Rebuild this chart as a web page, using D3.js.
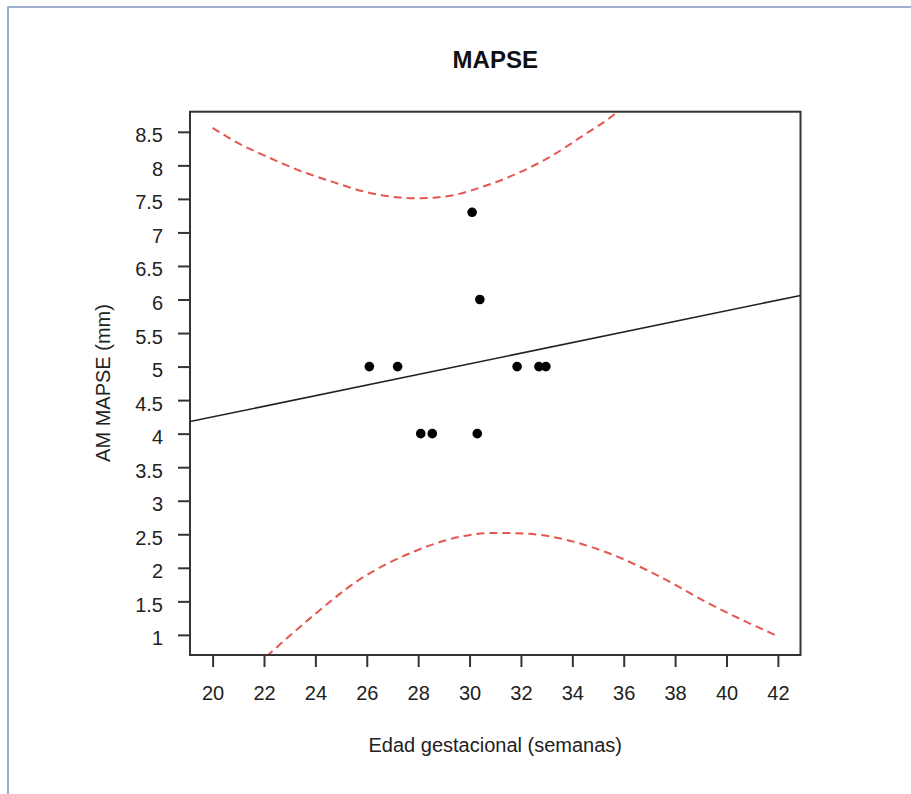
<!DOCTYPE html>
<html>
<head>
<meta charset="utf-8">
<script src="https://cdn.jsdelivr.net/npm/d3@7"></script>
<style>
  body { margin: 0; background: #fff; }
  text { font-family: "Liberation Sans", Arial, sans-serif; fill: #222; }
</style>
</head>
<body>
<div class="chart"></div>
<script>
// gestational age (weeks) and AM MAPSE (mm) of each case
var pointX = [26.1, 27.2, 28.1, 28.55, 30.1, 30.4, 30.3, 31.85, 32.7, 32.97];
var pointY = [5, 5, 4, 4, 7.3, 6, 4, 5, 5, 5];

// fitted line, read at the two plot edges
var fitX = [19.12, 42.88];
var fitY = [4.18, 6.06];

// upper prediction band (dashed red)
var upperX = [20, 21, 22, 23.4, 24.7, 26, 27.3, 28.1, 29.3, 30.5, 31.8, 33.1, 34.4, 35.6, 36.2];
var upperY = [8.56, 8.33, 8.15, 7.92, 7.75, 7.6, 7.52, 7.51, 7.55, 7.68, 7.87, 8.12, 8.44, 8.75, 8.95];

// lower prediction band (dashed red)
var lowerX = [22.1, 23.8, 25.7, 27.7, 29.6, 30.9, 32.2, 33.5, 35.4, 37.4, 39.3, 41.65, 42];
var lowerY = [0.68, 1.25, 1.82, 2.22, 2.46, 2.52, 2.51, 2.44, 2.22, 1.87, 1.47, 1.04, 0.98];

var xTicks = [20, 22, 24, 26, 28, 30, 32, 34, 36, 38, 40, 42];
var yTicks = [1, 1.5, 2, 2.5, 3, 3.5, 4, 4.5, 5, 5.5, 6, 6.5, 7, 7.5, 8, 8.5];

var width = 911, height = 794;
var plotLeft = 190, plotRight = 800.5, plotTop = 111.7, plotBottom = 655;

var svg = d3.select(".chart").append("svg")
    .attr("width", width)
    .attr("height", height);

// page frame (blue-grey, open to the right and bottom)
svg.append("path")
    .attr("d", "M8,794 L8,7 L911,7")
    .attr("fill", "none")
    .attr("stroke", "#8298c2")
    .attr("stroke-width", 1.6);

var x = d3.scaleLinear().domain([19.12, 42.88]).range([plotLeft, plotRight]);
var y = d3.scaleLinear().domain([0.7, 8.8]).range([plotBottom, plotTop]);

svg.append("clipPath").attr("id", "plotClip")
  .append("rect")
    .attr("x", plotLeft).attr("y", plotTop)
    .attr("width", plotRight - plotLeft).attr("height", plotBottom - plotTop);

// axes
var xAxis = svg.append("g")
    .attr("transform", "translate(0," + plotBottom + ")")
    .call(d3.axisBottom(x).tickValues(xTicks).tickSize(12).tickPadding(19).tickSizeOuter(0));

var yAxis = svg.append("g")
    .attr("transform", "translate(" + plotLeft + ",0)")
    .call(d3.axisLeft(y).tickValues(yTicks).tickFormat(d3.format("~g")).tickSize(12).tickPadding(15).tickSizeOuter(0));

[xAxis, yAxis].forEach(function(ax) {
  ax.select(".domain").remove();
  ax.selectAll(".tick line").attr("stroke", "#333").attr("stroke-width", 2);
  ax.selectAll(".tick text")
    .attr("font-size", "20px")
    .attr("font-family", "Liberation Sans, Arial, sans-serif")
    .attr("fill", "#222");
});
yAxis.selectAll(".tick text").attr("dy", "0.5em");

// band curves
var line = d3.line()
    .x(function(d) { return x(d[0]); })
    .y(function(d) { return y(d[1]); })
    .curve(d3.curveMonotoneX);

var bands = [d3.zip(upperX, upperY), d3.zip(lowerX, lowerY)];

svg.append("g").attr("clip-path", "url(#plotClip)")
  .selectAll(".band")
    .data(bands)
    .enter().append("path")
    .attr("class", "band")
    .attr("d", line)
    .attr("fill", "none")
    .attr("stroke", "#e2574f")
    .attr("stroke-width", 2)
    .attr("stroke-dasharray", "8,5");

// fitted line
svg.append("g").attr("clip-path", "url(#plotClip)")
  .append("path")
    .datum(d3.zip(fitX, fitY))
    .attr("d", d3.line().x(function(d) { return x(d[0]); }).y(function(d) { return y(d[1]); }))
    .attr("fill", "none")
    .attr("stroke", "#222")
    .attr("stroke-width", 1.6);

// points
svg.selectAll(".dot")
    .data(d3.zip(pointX, pointY))
    .enter().append("circle")
    .attr("class", "dot")
    .attr("cx", function(d) { return x(d[0]); })
    .attr("cy", function(d) { return y(d[1]); })
    .attr("r", 4.8)
    .attr("fill", "#000");

// plot box
svg.append("rect")
    .attr("x", plotLeft).attr("y", plotTop)
    .attr("width", plotRight - plotLeft).attr("height", plotBottom - plotTop)
    .attr("fill", "none")
    .attr("stroke", "#333")
    .attr("stroke-width", 2);

// titles
svg.append("text")
    .attr("x", (plotLeft + plotRight) / 2)
    .attr("y", 68)
    .attr("text-anchor", "middle")
    .attr("font-size", "24px")
    .attr("font-weight", "bold")
    .style("fill", "#111")
    .text("MAPSE");

svg.append("text")
    .attr("x", (plotLeft + plotRight) / 2)
    .attr("y", 752)
    .attr("text-anchor", "middle")
    .attr("font-size", "20px")
    .text("Edad gestacional (semanas)");

svg.append("text")
    .attr("transform", "translate(110," + 383 + ") rotate(-90)")
    .attr("text-anchor", "middle")
    .attr("font-size", "20px")
    .text("AM MAPSE (mm)");
</script>
</body>
</html>
